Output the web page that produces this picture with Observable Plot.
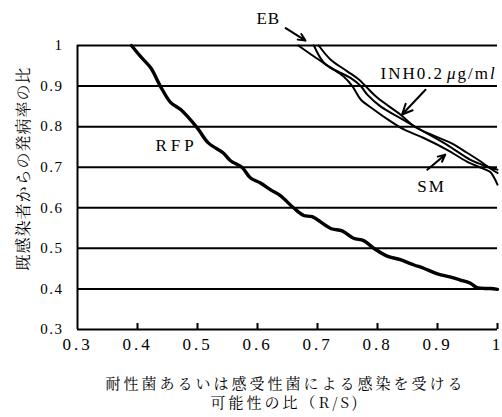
<!DOCTYPE html>
<html>
<head>
<meta charset="utf-8">
<script src="https://cdn.jsdelivr.net/npm/d3@7"></script>
<script src="https://cdn.jsdelivr.net/npm/@observablehq/plot@0.6"></script>
<style>
  body { margin: 0; background: #fff; }
  #chart svg { display: block; }
  #chart svg text.num, #chart svg text.num tspan { font-family: "Liberation Serif", "Times New Roman", serif !important; }
  #chart svg text.jp, #chart svg text.jp tspan { font-family: "Noto Serif CJK JP", "Noto Sans CJK JP", serif !important; }
</style>
</head>
<body>
<div id="chart"></div>
<script>
// Axis ticks
const xTicks = [0.3, 0.4, 0.5, 0.6, 0.7, 0.8, 0.9, 1];
const yTicks = [0.3, 0.4, 0.5, 0.6, 0.7, 0.8, 0.9, 1];
const gridLevels = [0.4, 0.5, 0.6, 0.7, 0.8, 0.9, 1];

// RFP
const rfpX = [0.39, 0.405, 0.422, 0.438, 0.455, 0.472, 0.4995, 0.518, 0.543, 0.555, 0.574, 0.588, 0.605, 0.622, 0.638, 0.66, 0.677, 0.691, 0.722, 0.741, 0.76, 0.777, 0.794, 0.816, 0.838, 0.861, 0.877, 0.9, 0.922, 0.938, 0.955, 0.966, 0.988, 1.0];
const rfpY = [1.0, 0.973, 0.945, 0.9, 0.86, 0.842, 0.797, 0.76, 0.735, 0.716, 0.7, 0.674, 0.661, 0.644, 0.63, 0.6, 0.581, 0.578, 0.549, 0.543, 0.525, 0.519, 0.5, 0.481, 0.472, 0.459, 0.451, 0.437, 0.429, 0.422, 0.414, 0.403, 0.401, 0.399];

// EB
const ebX = [0.668, 0.693, 0.722, 0.743, 0.758, 0.772, 0.793, 0.822, 0.844, 0.877, 0.916, 0.949, 0.975, 0.988, 0.994, 1.0];
const ebY = [1.0, 0.974, 0.945, 0.924, 0.9, 0.867, 0.843, 0.813, 0.793, 0.772, 0.743, 0.714, 0.697, 0.688, 0.675, 0.657];

// INH 0.2 μg/ml
const inhX = [0.694, 0.711, 0.733, 0.755, 0.772, 0.783, 0.805, 0.838, 0.877, 0.916, 0.955, 0.98, 1.0];
const inhY = [1.0, 0.957, 0.937, 0.92, 0.9, 0.879, 0.85, 0.821, 0.788, 0.755, 0.718, 0.703, 0.694];

// SM
const smX = [0.702, 0.722, 0.749, 0.769, 0.78, 0.8, 0.838, 0.861, 0.89, 0.922, 0.95, 0.972, 0.99, 1.0];
const smY = [1.0, 0.965, 0.937, 0.916, 0.9, 0.871, 0.83, 0.801, 0.78, 0.76, 0.735, 0.714, 0.695, 0.686];

const toRows = (xs, ys) => xs.map((x, i) => ({x, y: ys[i]}));
const rfp = toRows(rfpX, rfpY);
const eb = toRows(ebX, ebY);
const inh = toRows(inhX, inhY);
const sm = toRows(smX, smY);

const xTitle = "耐性菌あるいは感受性菌による感染を受ける\n可能性の比（R/S)";
const yTitle = "既感染者からの発病率の比";

const arrowStyle = {stroke: "#000", strokeWidth: 2, headLength: 9, headAngle: 50};
const fmt = d => String(+d.toFixed(1));

const chart = Plot.plot({
  width: 502,
  height: 417,
  marginLeft: 77,
  marginRight: 5,
  marginTop: 45,
  marginBottom: 88,
  style: {background: "#fff", color: "#000"},
  x: {domain: [0.3, 1]},
  y: {domain: [0.3, 1]},
  marks: [
    // horizontal grid
    Plot.ruleY(gridLevels, {stroke: "#000", strokeWidth: 2}),
    // axis lines
    Plot.ruleX([0.3], {stroke: "#000", strokeWidth: 2}),
    Plot.ruleY([0.3], {stroke: "#000", strokeWidth: 2}),
    // inward ticks on the x axis
    Plot.axisX({ticks: xTicks.slice(1), tickSize: 6, dy: -6, tickFormat: () => "", strokeWidth: 2, label: null}),
    // tick labels
    Plot.axisX({ticks: xTicks, tickSize: 0, tickPadding: 8, fontSize: 17, tickFormat: fmt, label: null}),
    Plot.axisY({ticks: yTicks, tickSize: 0, tickPadding: 14, fontSize: 15, tickFormat: fmt, label: null}),
    // curves
    Plot.line(rfp, {x: "x", y: "y", stroke: "#000", strokeWidth: 3.4, curve: "catmull-rom", strokeLinejoin: "round"}),
    Plot.line(eb, {x: "x", y: "y", stroke: "#000", strokeWidth: 2, curve: "catmull-rom", strokeLinejoin: "round"}),
    Plot.line(inh, {x: "x", y: "y", stroke: "#000", strokeWidth: 2, curve: "catmull-rom", strokeLinejoin: "round"}),
    Plot.line(sm, {x: "x", y: "y", stroke: "#000", strokeWidth: 2, curve: "catmull-rom", strokeLinejoin: "round"}),
    // series labels with pointers
    Plot.text(["EB"], {x: 0.618, y: 1.067, fontSize: 17}),
    Plot.arrow([0], {x1: 0.647, y1: 1.043, x2: 0.68, y2: 1.012, ...arrowStyle}),
    Plot.text(["INH0.2μg/ml"], {x: 0.805, y: 0.93, textAnchor: "start", fontSize: 17}),
    Plot.arrow([0], {x1: 0.88, y1: 0.891, x2: 0.841, y2: 0.83, ...arrowStyle}),
    Plot.text(["SM"], {x: 0.89, y: 0.653, fontSize: 17}),
    Plot.arrow([0], {x1: 0.883, y1: 0.694, x2: 0.913, y2: 0.731, ...arrowStyle}),
    Plot.text(["RFP"], {x: 0.465, y: 0.754, fontSize: 17}),
    // axis titles
    Plot.text([xTitle], {frameAnchor: "bottom", textAnchor: "middle", lineAnchor: "middle", lineHeight: 1.25, dy: 63, dx: -2, fontSize: 15}),
    Plot.text([yTitle], {frameAnchor: "left", textAnchor: "middle", lineAnchor: "middle", dx: -54, dy: -19, rotate: -90, fontSize: 16})
  ]
});

const svg = d3.select(chart);
svg.selectAll('g[aria-label="x-axis tick label"] text').classed("num", true).style("letter-spacing", "3px");
svg.selectAll('g[aria-label="y-axis tick label"] text').classed("num", true).style("letter-spacing", "1.5px");
const spacing = {"EB": "1px", "SM": "2px", "RFP": "4px"};
svg.selectAll('g[aria-label="text"] text').each(function () {
  const el = d3.select(this);
  const t = el.text();
  const isTitle = /[\u3040-\u9fff]/.test(t);
  el.classed(isTitle ? "jp" : "num", true);
  if (isTitle) el.style("letter-spacing", t.startsWith("耐") ? "3px" : "1px");
  if (spacing[t]) el.style("letter-spacing", spacing[t]);
  if (t === "INH0.2μg/ml") {
    el.text(null).style("letter-spacing", "2px");
    el.append("tspan").text("INH0.2");
    el.append("tspan").attr("dx", 3).attr("font-style", "italic").text("μ");
    el.append("tspan").text("g/m");
    el.append("tspan").attr("font-style", "italic").text("l");
  }
});

document.getElementById("chart").appendChild(chart);
</script>
</body>
</html>
